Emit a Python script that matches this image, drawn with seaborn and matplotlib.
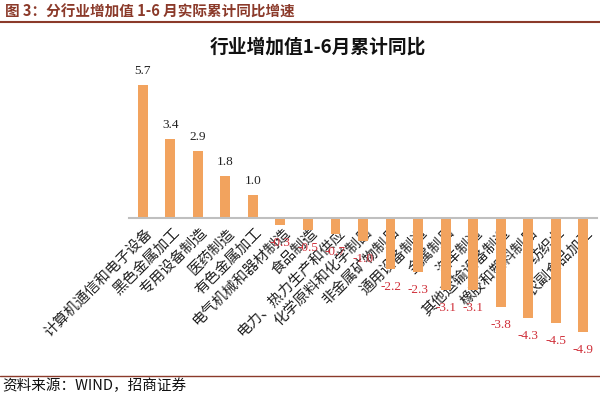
import matplotlib
matplotlib.use("Agg")
import matplotlib.pyplot as plt
from matplotlib.transforms import ScaledTranslation
import seaborn as sns
import pandas as pd

categories = ["计算机通信和电子设备", "黑色金属加工", "专用设备制造", "医药制造", "有色金属加工",
              "电气机械和器材制造", "食品制造", "电力、热力生产和供应", "化学原料和化学制品",
              "非金属矿物制品", "通用设备制造", "金属制品", "汽车制造", "其他运输设备制造",
              "橡胶和塑料制品", "纺织业", "农副食品加工"]
values = [5.7, 3.4, 2.9, 1.8, 1.0, -0.3, -0.5, -0.7, -1.0, -2.2, -2.3, -3.1, -3.1, -3.8, -4.3, -4.5, -4.9]

header = "图 3：分行业增加值 1-6 月实际累计同比增速"
title = "行业增加值1-6月累计同比"
source = "资料来源：WIND，招商证券"

sns.set_theme(style="white")
plt.rcParams['font.family'] = ['Noto Sans CJK SC', 'DejaVu Sans']

df = pd.DataFrame({"cat": categories, "val": values})

fig = plt.figure(figsize=(6.0, 3.96), dpi=100)
ax = fig.add_axes([0.215, 0.126, 0.78, 0.688])

bar_color = "#F2A35E"
sns.barplot(data=df, x="cat", y="val", color=bar_color, width=0.36, ax=ax,
            saturation=1, edgecolor="none")
ax.set_xlim(-0.5, len(categories) - 0.5)
ax.set_ylim(-5.5, 6.2)
ax.set_xlabel("")
ax.set_ylabel("")
ax.set_yticks([])
for s in ["top", "right", "left"]:
    ax.spines[s].set_visible(False)
ax.spines["bottom"].set_position(("data", 0))
ax.spines["bottom"].set_color("#BFBFBF")
ax.spines["bottom"].set_linewidth(1.5)
ax.tick_params(axis="x", length=0, pad=9)
ax.set_xticks(range(len(categories)))
ax.set_xticklabels(categories, rotation=45, ha="right", va="center",
                   rotation_mode="anchor", fontsize=10.5, color="#222222")
off = ScaledTranslation(5 / 72, 0, fig.dpi_scale_trans)
for lab in ax.get_xticklabels():
    lab.set_transform(lab.get_transform() + off)

for i, v in enumerate(values):
    if v >= 0:
        ax.annotate(f"{v:.1f}", (i, v), xytext=(0, 10), textcoords="offset points",
                    ha="center", va="center", fontsize=9.5, family="Liberation Serif",
                    color="#222222")
    else:
        ax.annotate(f"{v:.1f}", (i, v), xytext=(0, -13), textcoords="offset points",
                    ha="center", va="center", fontsize=9.5, family="Liberation Serif",
                    color="#D0303A")

fig.text(0.53, 1 - 47 / 396, title, ha="center", va="center", fontsize=13.5,
         fontweight="bold", color="#111111")

brown = "#8B3A2A"
fig.text(0.008, 1 - 12 / 396, header, ha="left", va="center", fontsize=10.5,
         fontweight="bold", color=brown)
fig.add_artist(plt.Line2D([0, 1], [1 - 22 / 396, 1 - 22 / 396], color=brown, lw=1.5))
fig.add_artist(plt.Line2D([0, 1], [1 - 376 / 396, 1 - 376 / 396], color=brown, lw=1.0))
fig.text(0.003, 1 - 386 / 396, source, ha="left", va="center", fontsize=10.5, color="#111111")

fig.savefig("out.png", dpi=100)
